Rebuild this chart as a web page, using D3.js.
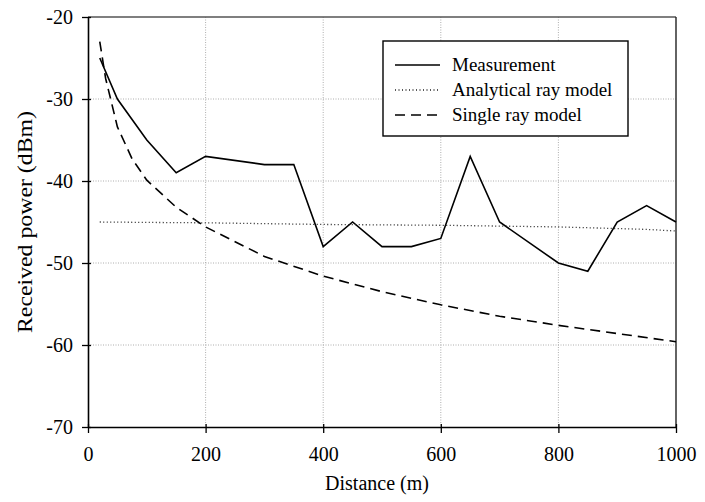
<!DOCTYPE html>
<html><head><meta charset="utf-8">
<script src="https://cdn.jsdelivr.net/npm/d3@7"></script>
<style>body{margin:0;background:#fff}svg{display:block}text{font-family:"Liberation Serif","Times New Roman",serif}</style>
</head><body><svg id="c" width="705" height="502"></svg>
<script>
const xTicks = [0, 200, 400, 600, 800, 1000];
const yTicks = [-20, -30, -40, -50, -60, -70];
const measDist = [20, 50, 100, 150, 200, 300, 350, 400, 450, 500, 550, 600, 650, 700, 800, 850, 900, 950, 1000];
const measPower = [-25, -30, -35, -39, -37, -38, -38, -48, -45, -48, -48, -47, -37, -45, -50, -51, -45, -43, -45];
const anaDist = [20, 100, 200, 300, 400, 500, 600, 700, 800, 900, 950, 1000];
const anaPower = [-45, -45.05, -45.1, -45.2, -45.3, -45.35, -45.4, -45.5, -45.6, -45.8, -45.9, -46.1];
const singleDist = [20, 30, 50, 75, 100, 150, 200, 300, 400, 500, 600, 700, 800, 900, 1000];
const singlePower = [-23, -27.5, -33.4, -37.3, -39.9, -43.2, -45.6, -49.2, -51.6, -53.5, -55.1, -56.5, -57.6, -58.6, -59.6];
const seriesNames = ["Measurement", "Analytical ray model", "Single ray model"];

const svg = d3.select("#c");
const L = 88, R = 676, T = 17, B = 427;
const x = d3.scaleLinear().domain([0, 1000]).range([L, R]);
const y = d3.scaleLinear().domain([-70, -20]).range([B, T]);

// grid
const g = svg.append("g");
g.selectAll(".vg").data(xTicks.filter(d => d > 0 && d < 1000)).enter().append("line")
  .attr("x1", d => x(d)).attr("x2", d => x(d)).attr("y1", T).attr("y2", B)
  .attr("stroke", "#999").attr("stroke-width", 0.8).attr("stroke-dasharray", "1,1.5");
g.selectAll(".hg").data(yTicks.filter(d => d > -70 && d < -20)).enter().append("line")
  .attr("x1", L).attr("x2", R).attr("y1", d => y(d)).attr("y2", d => y(d))
  .attr("stroke", "#999").attr("stroke-width", 0.8).attr("stroke-dasharray", "1,1.5");

// frame top/right
svg.append("line").attr("x1", L).attr("x2", R).attr("y1", T).attr("y2", T).attr("stroke", "#555").attr("stroke-width", 1.4);
svg.append("line").attr("x1", R).attr("x2", R).attr("y1", T).attr("y2", B).attr("stroke", "#222").attr("stroke-width", 1.4);

// axes
const fmt = d => String(d);
const xAxis = d3.axisBottom(x).tickValues(xTicks).tickFormat(fmt).tickSize(6).tickPadding(14).tickSizeOuter(0);
const yAxis = d3.axisLeft(y).tickValues(yTicks).tickFormat(fmt).tickSize(6).tickPadding(9).tickSizeOuter(0);
const xa = svg.append("g").attr("transform", `translate(0,${B})`).call(xAxis);
const ya = svg.append("g").attr("transform", `translate(${L},0)`).call(yAxis);
[xa, ya].forEach(a => {
  a.select(".domain").attr("stroke", "#000").attr("stroke-width", 1.6);
  a.selectAll(".tick line").attr("stroke", "#000").attr("stroke-width", 1.3);
  a.selectAll(".tick text").attr("font-size", 20).attr("fill", "#000")
    .attr("font-family", "Liberation Serif, Times New Roman, serif");
});
xa.selectAll(".tick line").attr("y1", -3).attr("y2", 6);
ya.selectAll(".tick line").attr("x1", 3).attr("x2", -6);

// axis titles
svg.append("text").attr("x", 377).attr("y", 490).attr("text-anchor", "middle").attr("font-size", 20).text("Distance  (m)");
svg.append("text").attr("transform", "translate(32,222) rotate(-90)").attr("text-anchor", "middle").attr("font-size", 20)
  .attr("textLength", 222).attr("lengthAdjust", "spacingAndGlyphs").text("Received power  (dBm)");

const line = d3.line().x(d => x(d[0])).y(d => y(d[1]));
const styles = [
  {dash: null, w: 1.6, col: "#000"},
  {dash: "1,2.5", w: 1.3, col: "#222"},
  {dash: "10,6", w: 1.6, col: "#000"}
];
const data = [
  measDist.map((d, i) => [d, measPower[i]]),
  anaDist.map((d, i) => [d, anaPower[i]]),
  singleDist.map((d, i) => [d, singlePower[i]])
];
data.forEach((d, i) => {
  svg.append("path").datum(d).attr("d", line).attr("fill", "none")
    .attr("stroke", styles[i].col).attr("stroke-width", styles[i].w)
    .attr("stroke-dasharray", styles[i].dash);
});

// legend
const lg = svg.append("g");
lg.append("rect").attr("x", 383).attr("y", 41).attr("width", 245).attr("height", 95)
  .attr("fill", "#fff").attr("stroke", "#000").attr("stroke-width", 1.4);
seriesNames.forEach((n, i) => {
  const yy = 65 + i * 25;
  lg.append("line").attr("x1", 395).attr("x2", 440).attr("y1", yy).attr("y2", yy)
    .attr("stroke", styles[i].col).attr("stroke-width", styles[i].w).attr("stroke-dasharray", styles[i].dash);
  lg.append("text").attr("x", 452).attr("y", yy + 6).attr("font-size", 19).text(n);
});
</script></body></html>
